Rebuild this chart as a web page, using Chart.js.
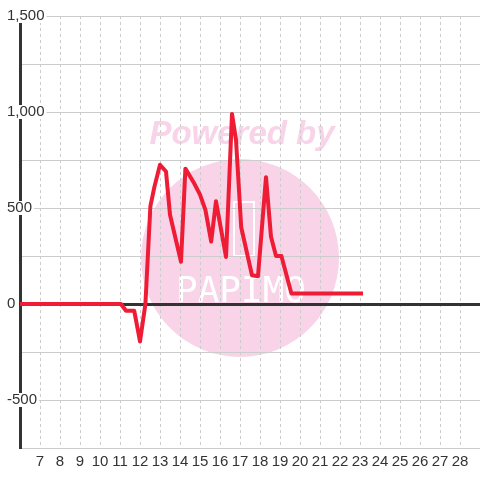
<!DOCTYPE html>
<html>
<head>
<meta charset="utf-8">
<script src="https://cdn.jsdelivr.net/npm/chart.js@4/dist/chart.umd.min.js"></script>
<style>
  html, body { margin: 0; padding: 0; background: #ffffff; }
  #wrap { width: 480px; height: 480px; }
</style>
</head>
<body>
<div id="wrap"><canvas id="chart"></canvas></div>
<script>
// values (x = hour of day)
const hours = [6, 11.05, 11.3, 11.71, 12.0, 12.27, 12.52, 12.72, 13.0, 13.3, 13.5, 14.05, 14.27, 14.7, 15.0,
    15.27, 15.56, 15.8, 16.3, 16.6, 16.8, 17.06, 17.6, 17.9, 18.3, 18.55, 18.8, 19.07, 19.57, 23.15];
const amounts = [0, 0, -35, -35, -195, 0, 510, 610, 725, 690, 465, 220, 705, 630, 570,
    490, 325, 535, 245, 990, 855, 400, 150, 145, 660, 350, 250, 250, 55, 55];
const xRange = [6, 29];
const yRange = [-750, 1500];

const points = hours.map((h, i) => ({ x: h, y: amounts[i] }));

// faint "Powered by" watermark behind the grid
const watermark = {
    id: 'watermark',
    beforeDraw(chart) {
        const ctx = chart.ctx;
        ctx.save();
        ctx.fillStyle = '#f9d4e9';
        ctx.beginPath();
        ctx.arc(240, 258, 99, 0, Math.PI * 2);
        ctx.fill();
        ctx.font = 'bold italic 33px "Liberation Sans"';
        ctx.textAlign = 'center';
        ctx.textBaseline = 'alphabetic';
        ctx.fillText('Powered by', 242, 144);
        ctx.strokeStyle = '#ffffff';
        ctx.lineWidth = 2;
        ctx.strokeRect(234, 202, 20, 54);
        ctx.fillStyle = '#ffffff';
        ctx.font = '36px "DejaVu Sans Mono"';
        ctx.fillText('PAPIMO', 241, 302);
        ctx.restore();
    }
};

const labelFont = { family: '"Liberation Sans", Arial, sans-serif', size: 15 };

new Chart(document.getElementById('chart'), {
    type: 'line',
    data: {
        datasets: [{
            data: points,
            borderColor: '#ee1c35',
            borderWidth: 4,
            borderJoinStyle: 'round',
            pointRadius: 0,
            tension: 0,
            fill: false
        }]
    },
    options: {
        responsive: true,
        maintainAspectRatio: false,
        animation: false,
        layout: { padding: { top: 16, left: 0, right: 0, bottom: 0 } },
        plugins: { legend: { display: false }, tooltip: { enabled: false } },
        scales: {
            x: {
                type: 'linear',
                min: xRange[0],
                max: xRange[1],
                afterFit: s => {
                    s.height = 32;
                    s.paddingLeft = 0;
                    s.paddingRight = 0;
                },
                // in v4 the grid dash comes from border.dash
                border: { display: false, dash: [3, 3] },
                grid: {
                    color: '#cccccc',
                    lineWidth: 1,
                    drawTicks: false
                },
                ticks: {
                    stepSize: 1,
                    autoSkip: false,
                    maxRotation: 0,
                    padding: 5,
                    color: '#333333',
                    font: labelFont,
                    callback: v => (v === xRange[0] || v === xRange[1]) ? '' : String(v)
                }
            },
            y: {
                min: yRange[0],
                max: yRange[1],
                afterFit: s => { s.width = 20; },
                border: { display: true, color: '#333333', width: 3 },
                grid: {
                    drawTicks: false,
                    color: ctx => ctx.tick && ctx.tick.value === 0 ? '#333333' : '#cccccc',
                    lineWidth: ctx => ctx.tick && ctx.tick.value === 0 ? 3 : 1
                },
                ticks: {
                    stepSize: 250,
                    mirror: true,
                    padding: -13,
                    color: '#333333',
                    font: labelFont,
                    showLabelBackdrop: true,
                    backdropColor: ctx => ctx.tick && ctx.tick.value % 500 === 0 ? '#ffffff' : 'rgba(0,0,0,0)',
                    backdropPadding: { top: -2, bottom: -2, left: 1, right: 2 },
                    callback: v => v % 500 === 0 ? v.toLocaleString('en-US') : ''
                }
            }
        }
    },
    plugins: [watermark]
});
</script>
</body>
</html>
